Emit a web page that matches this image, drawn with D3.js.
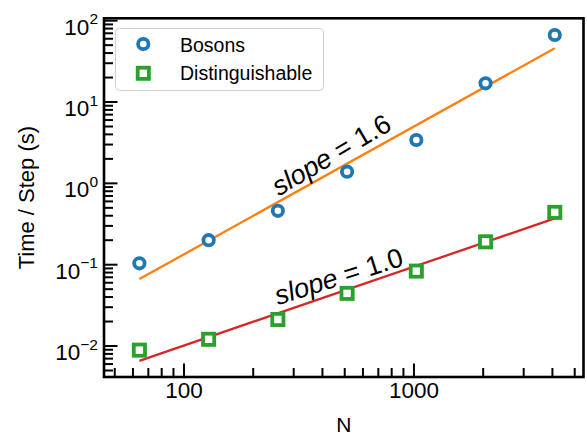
<!DOCTYPE html>
<html>
<head>
<meta charset="utf-8">
<script src="https://cdn.jsdelivr.net/npm/d3@7"></script>
<style>
  body { margin: 0; background: #fff; }
  svg { display: block; font-family: "Liberation Sans", Arial, sans-serif; }
</style>
</head>
<body>
<svg id="chart"></svg>
<script>
// values
const nValues = [64, 128, 256, 512, 1024, 2048, 4096]
const bosonTimes = [0.104, 0.20, 0.46, 1.39, 3.41, 17.0, 66.7]
const distTimes = [0.0089, 0.0121, 0.0212, 0.0444, 0.0834, 0.191, 0.44]
const fitN = [64, 4096]
const bosonFit = [0.0665, 45.8]
const distFit = [0.00658, 0.371]
const seriesNames = ['Bosons', 'Distinguishable']
const slopeLabels = ['1.6', '1.0']
const xTickValues = [100, 1000]
const yTickExponents = [-2, -1, 0, 1, 2]

const config = {
    width: 587,
    height: 437,
    margin: {top: 18.3, right: 3.5, bottom: 60, left: 104}
}

const width = config.width - config.margin.left - config.margin.right
const height = config.height - config.margin.top - config.margin.bottom

const svg = d3.select('#chart')
    .attr('width', config.width)
    .attr('height', config.height)

const chart = svg.append('g')
    .attr('transform', `translate(${config.margin.left},${config.margin.top})`)

const xScale = d3.scaleLog()
    .domain([44.9, 5460])
    .range([0, width])

const yScale = d3.scaleLog()
    .domain([0.00416, 107])
    .range([height, 0])

// minor ticks: 2..9 times each decade inside the domain
const minorTicks = (scale, lo, hi) => {
    let out = []
    for (let e = lo; e <= hi; e++) {
        for (let m = 2; m <= 9; m++) {
            let v = m * Math.pow(10, e)
            let [d0, d1] = scale.domain()
            if (v >= d0 && v <= d1) out.push(v)
        }
    }
    return out
}

// x ticks (pointing inward)
chart.selectAll('.x-minor')
    .data(minorTicks(xScale, 1, 3))
    .join('line')
        .attr('class', 'x-minor')
        .attr('x1', d => xScale(d)).attr('x2', d => xScale(d))
        .attr('y1', height).attr('y2', height - 9)
        .attr('stroke', '#000').attr('stroke-width', 2)

chart.selectAll('.x-major')
    .data(xTickValues)
    .join('line')
        .attr('class', 'x-major')
        .attr('x1', d => xScale(d)).attr('x2', d => xScale(d))
        .attr('y1', height).attr('y2', height - 13.5)
        .attr('stroke', '#000').attr('stroke-width', 2)

chart.selectAll('.x-label')
    .data(xTickValues)
    .join('text')
        .attr('class', 'x-label')
        .attr('x', d => xScale(d))
        .attr('y', height + 21.3)
        .attr('text-anchor', 'middle')
        .attr('font-size', 22.5)
        .text(d => d)

// y ticks
chart.selectAll('.y-minor')
    .data(minorTicks(yScale, -3, 1))
    .join('line')
        .attr('class', 'y-minor')
        .attr('x1', 0).attr('x2', 9)
        .attr('y1', d => yScale(d)).attr('y2', d => yScale(d))
        .attr('stroke', '#000').attr('stroke-width', 2)

chart.selectAll('.y-major')
    .data(yTickExponents)
    .join('line')
        .attr('class', 'y-major')
        .attr('x1', 0).attr('x2', 13.5)
        .attr('y1', d => yScale(Math.pow(10, d))).attr('y2', d => yScale(Math.pow(10, d)))
        .attr('stroke', '#000').attr('stroke-width', 2)

const yLabels = chart.selectAll('.y-label')
    .data(yTickExponents)
    .join('text')
        .attr('class', 'y-label')
        .attr('x', -6)
        .attr('y', d => yScale(Math.pow(10, d)) + 14)
        .attr('text-anchor', 'end')
        .attr('font-size', 22.5)
yLabels.append('tspan').text('10')
yLabels.append('tspan')
    .attr('font-size', 15.5)
    .attr('dy', -10.5)
    .text(d => d < 0 ? '\u2212' + (-d) : d)

// fit lines
const line = d3.line()
    .x(d => xScale(d[0]))
    .y(d => yScale(d[1]))

chart.append('path')
    .datum(d3.zip(fitN, bosonFit))
    .attr('d', line)
    .attr('fill', 'none')
    .attr('stroke', '#ff7f0e')
    .attr('stroke-width', 2.3)

chart.append('path')
    .datum(d3.zip(fitN, distFit))
    .attr('d', line)
    .attr('fill', 'none')
    .attr('stroke', '#d62728')
    .attr('stroke-width', 2.3)

// slope annotations
const slopeNotes = [
    {label: slopeLabels[0], n: 258, t: 0.69, angle: 30.5},
    {label: slopeLabels[1], n: 256.6, t: 0.0318, angle: 17.5}
]
const notes = chart.selectAll('.slope')
    .data(slopeNotes)
    .join('text')
        .attr('class', 'slope')
        .attr('transform', d => `translate(${xScale(d.n)},${yScale(d.t)}) rotate(${-d.angle})`)
        .attr('font-size', 27)
notes.append('tspan').attr('font-style', 'italic').text('slope')
notes.append('tspan').text(d => ' = ' + d.label)

// markers
chart.selectAll('.boson')
    .data(d3.zip(nValues, bosonTimes))
    .join('circle')
        .attr('class', 'boson')
        .attr('cx', d => xScale(d[0]))
        .attr('cy', d => yScale(d[1]))
        .attr('r', 5.2)
        .attr('fill', '#fff')
        .attr('stroke', '#1f77b4')
        .attr('stroke-width', 3.8)

chart.selectAll('.dist')
    .data(d3.zip(nValues, distTimes))
    .join('rect')
        .attr('class', 'dist')
        .attr('x', d => xScale(d[0]) - 5.6)
        .attr('y', d => yScale(d[1]) - 5.6)
        .attr('width', 11.2)
        .attr('height', 11.2)
        .attr('fill', '#fff')
        .attr('stroke', '#2ca02c')
        .attr('stroke-width', 3.8)

// frame
chart.append('rect')
    .attr('width', width)
    .attr('height', height)
    .attr('fill', 'none')
    .attr('stroke', '#000')
    .attr('stroke-width', 2.6)

// legend
const legend = svg.append('g')
    .attr('transform', 'translate(115.5,28.5)')

legend.append('rect')
    .attr('width', 208)
    .attr('height', 62)
    .attr('rx', 4)
    .attr('fill', '#fff')
    .attr('fill-opacity', 0.8)
    .attr('stroke', '#d0d0d0')
    .attr('stroke-width', 1)

legend.append('circle')
    .attr('cx', 27.8).attr('cy', 15.5)
    .attr('r', 5.2)
    .attr('fill', '#fff')
    .attr('stroke', '#1f77b4')
    .attr('stroke-width', 3.8)

legend.append('rect')
    .attr('x', 27.8 - 5.6).attr('y', 44.8 - 5.6)
    .attr('width', 11.2).attr('height', 11.2)
    .attr('fill', '#fff')
    .attr('stroke', '#2ca02c')
    .attr('stroke-width', 3.8)

legend.selectAll('.legend-label')
    .data(seriesNames)
    .join('text')
        .attr('class', 'legend-label')
        .attr('x', 64.5)
        .attr('y', (d, i) => 23 + i * 28.5)
        .attr('font-size', 19.5)
        .text(d => d)

// axis titles
svg.append('text')
    .attr('x', config.margin.left + width / 2)
    .attr('y', 432)
    .attr('text-anchor', 'middle')
    .attr('font-size', 21)
    .text('N')

svg.append('text')
    .attr('transform', `translate(33.5,${config.margin.top + height / 2}) rotate(-90)`)
    .attr('text-anchor', 'middle')
    .attr('font-size', 22)
    .text('Time / Step (s)')
</script>
</body>
</html>
